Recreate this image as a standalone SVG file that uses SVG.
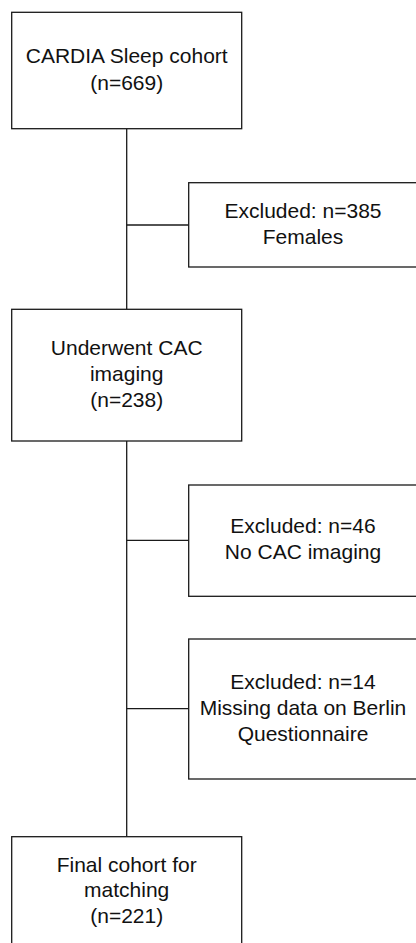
<svg xmlns="http://www.w3.org/2000/svg" width="416" height="943" viewBox="0 0 416 943">
<style>
.box{fill:#fff;stroke:#1a1a1a;stroke-width:1.3}
line{stroke:#1a1a1a;stroke-width:1.3}
text{font-family:"Liberation Sans",Arial,sans-serif;font-size:21px;fill:#111;text-anchor:middle}
</style>
<rect width="416" height="943" fill="#fff"/>
<g id="connectors">
<line x1="126.7" y1="128.7" x2="126.7" y2="309.3"/>
<line x1="126.7" y1="225" x2="188.7" y2="225"/>
<line x1="126.7" y1="441" x2="126.7" y2="836.7"/>
<line x1="126.7" y1="540.3" x2="188.7" y2="540.3"/>
<line x1="126.7" y1="708.7" x2="188.7" y2="708.7"/>
</g>
<g id="n1">
<rect class="box" x="11.7" y="12.3" width="230" height="116.4"/>
<text x="126.7" y="63">CARDIA Sleep cohort</text>
<text x="126.7" y="89.5">(n=669)</text>
</g>
<g id="n2">
<rect class="box" x="188.7" y="182.7" width="229" height="84.3"/>
<text x="303" y="218.3">Excluded: n=385</text>
<text x="303" y="244">Females</text>
</g>
<g id="n3">
<rect class="box" x="11.7" y="309.3" width="230" height="131.7"/>
<text x="126.7" y="355">Underwent CAC</text>
<text x="126.7" y="381">imaging</text>
<text x="126.7" y="406.7">(n=238)</text>
</g>
<g id="n4">
<rect class="box" x="188.7" y="485" width="229" height="111.3"/>
<text x="303" y="533.3">Excluded: n=46</text>
<text x="303" y="558.7">No CAC imaging</text>
</g>
<g id="n5">
<rect class="box" x="188.7" y="639" width="229" height="140"/>
<text x="303" y="689.3">Excluded: n=14</text>
<text x="303" y="715">Missing data on Berlin</text>
<text x="303" y="740.7">Questionnaire</text>
</g>
<g id="n6">
<rect class="box" x="11.7" y="836.7" width="230" height="120"/>
<text x="126.7" y="871.7">Final cohort for</text>
<text x="126.7" y="897">matching</text>
<text x="126.7" y="922.7">(n=221)</text>
</g>
</svg>
